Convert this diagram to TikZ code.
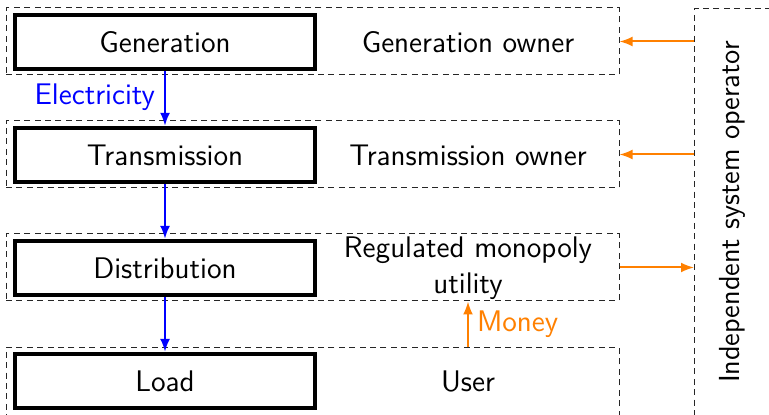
\documentclass[tikz,border=0pt]{standalone}
\usetikzlibrary{arrows.meta}
\renewcommand{\familydefault}{\sfdefault}
\definecolor{moneyorange}{RGB}{255,128,0}
\tikzset{
  txt/.style={font=\fontsize{14.9pt}{18pt}\selectfont},
  rowbox/.style={draw=black!85, dash pattern=on 3pt off 2.2pt, line width=0.5pt,
    minimum width=306.5pt, minimum height=33.5pt, inner sep=0pt},
  stagebox/.style={txt, draw, line width=2.2pt, minimum width=150pt, minimum height=27pt, inner sep=0pt},
  ownertxt/.style={txt, align=center, inner sep=0pt},
  flow/.style={blue, line width=1pt, -{Latex[length=6.5pt,width=5pt]}},
  cash/.style={moneyorange, line width=1pt, -{Latex[length=6.5pt,width=5pt]}}
}
\begin{document}
\begin{tikzpicture}[x=0.5pt, y=-0.5pt]
\useasboundingbox (0,0) rectangle (769,415);
\clip (0,0) rectangle (769,415);
% dashed rows
\node[rowbox] (r1) at (312.5,41.5) {};
\node[rowbox] (r2) at (312.5,154.5) {};
\node[rowbox] (r3) at (312.5,267.5) {};
\node[rowbox, minimum height=40pt, anchor=north] (r4) at (312.5,347) {};
% independent system operator
\node[draw=black!85, dash pattern=on 3pt off 2.2pt, line width=0.5pt, anchor=north west,
  minimum width=60pt, minimum height=220pt, inner sep=0pt] (iso) at (694,8) {};
\node[font=\fontsize{14.5pt}{18pt}\selectfont, rotate=90] (isot) at (732,212) {Independent system operator};
% stages
\node[stagebox] (gen) at (165,42) {Generation};
\node[stagebox] (tra) at (165,155) {Transmission};
\node[stagebox] (dis) at (165,268) {Distribution};
\node[stagebox] (loa) at (165,381) {Load};
% owners
\node[ownertxt] (o1) at (468,42) {Generation owner};
\node[ownertxt] (o2) at (468,155) {Transmission owner};
\node[ownertxt] (o3) at (468,268) {Regulated monopoly\\utility};
\node[ownertxt] (o4) at (468,381) {User};
% electricity flow
\draw[flow] (gen.south) -- node[txt, left, inner sep=4.5pt, blue, yshift=0.5pt] (elec) {Electricity} (tra.north);
\draw[flow] (tra.south) -- (dis.north);
\draw[flow] (dis.south) -- (loa.north);
% money and control
\draw[cash] (iso.west |- r1.east) -- (r1.east);
\draw[cash] (iso.west |- r2.east) -- (r2.east);
\draw[cash] (r3.east) -- (iso.west |- r3.east);
\draw[cash] (r4.north -| o4) -- node[txt, right, inner sep=4pt, moneyorange] (mon) {Money} (r3.south -| o4);
\end{tikzpicture}
\end{document}
